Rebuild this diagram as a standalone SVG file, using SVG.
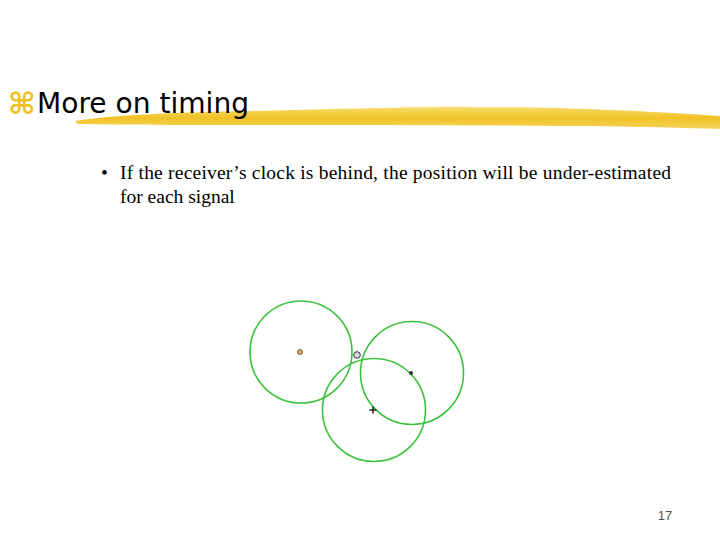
<svg xmlns="http://www.w3.org/2000/svg" width="720" height="540" viewBox="0 0 720 540">
<style>
.ring{fill:none;stroke:#3cc23c;stroke-width:1.6}
.body{font-family:"Liberation Serif",serif;font-size:19.5px;fill:#000}
</style>
<defs>
<linearGradient id="br" x1="0" y1="0" x2="0" y2="1">
<stop offset="0" stop-color="#f7dc6a"/>
<stop offset="0.5" stop-color="#f0c226"/>
<stop offset="1" stop-color="#f5d45a"/>
</linearGradient>
</defs>
<rect width="720" height="540" fill="#fff"/>
<g id="title-bar">
<path d="M75,121 C110,115 180,112 250,111 C360,108 470,106 560,108 C620,110 680,113 720,116 L720,129 C680,128 620,126 560,126 C460,125 360,125 260,125 C190,125 120,125 78,124 Z" fill="url(#br)"/>
<path d="M400,107 L470,107 M540,109 L600,110 M620,112 L690,115" stroke="#f3d050" stroke-width="1" opacity="0.5"/>
<text x="8" y="114" font-family="DejaVu Sans,sans-serif" font-size="30" font-weight="bold" fill="#f0c020">⌘</text>
<text x="37" y="113" font-family="DejaVu Sans,sans-serif" font-size="28" fill="#000" textLength="212" lengthAdjust="spacingAndGlyphs">More on timing</text>
</g>
<g id="bullet">
<text class="body" x="101" y="179">•</text>
<text class="body" x="120" y="179" textLength="551">If the receiver’s clock is behind, the position will be under-estimated</text>
<text class="body" x="120" y="203">for each signal</text>
</g>
<g id="circles">
<circle class="ring" cx="301" cy="352" r="51"/>
<circle class="ring" cx="412" cy="373" r="51.5"/>
<circle class="ring" cx="374" cy="410" r="51.5"/>
</g>
<g id="markers">
<circle cx="300" cy="352" r="2.6" fill="#e8a050" stroke="#555" stroke-width="0.8"/>
<circle cx="357" cy="355" r="3.3" fill="#d8d8e0" stroke="#333" stroke-width="1"/>
<circle cx="411" cy="373" r="2" fill="#333"/>
<path d="M369.5,410 h7 M373,406.5 v7" stroke="#222" stroke-width="1.5"/>
</g>
<text x="665" y="520" font-family="Liberation Sans,sans-serif" font-size="13" fill="#555" text-anchor="middle">17</text>
</svg>
